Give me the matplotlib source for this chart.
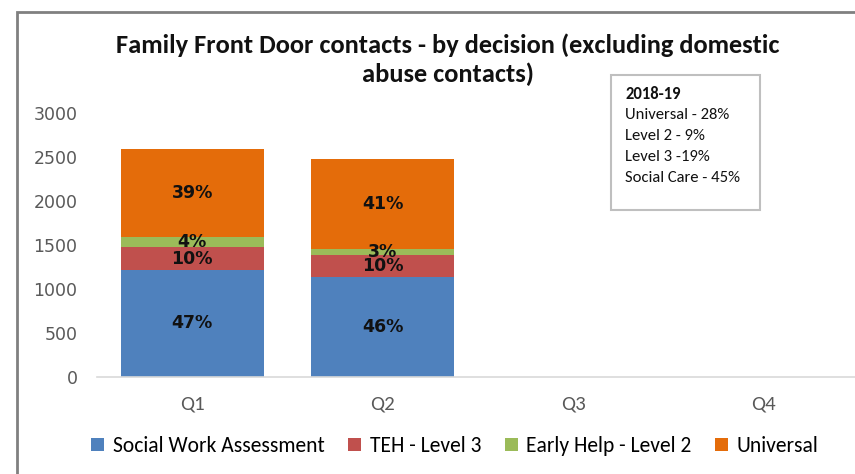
import numpy as np
import matplotlib
matplotlib.use('Agg')
from matplotlib import pyplot as plt
from matplotlib.patches import Rectangle

quarters = ['Q1', 'Q2', 'Q3', 'Q4']
social_work = [1220, 1135, 0, 0]
teh_level3 = [250, 245, 0, 0]
early_help = [115, 70, 0, 0]
universal = [1000, 1020, 0, 0]

series_names = ['Social Work Assessment', 'TEH - Level 3', 'Early Help - Level 2', 'Universal']
colors = ['#4F81BD', '#C0504D', '#9BBB59', '#E46C0A']

note_title = '2018-19'
note_lines = ['Universal - 28%', 'Level 2 - 9%', 'Level 3 -19%', 'Social Care - 45%']

calibri = ['Carlito', 'DejaVu Sans']
W, H = 855, 474

fig = plt.figure(figsize=(W / 100, H / 100), dpi=100)
ax = fig.add_axes([97 / W, 1 - 377 / H, 762 / W, (377 - 112.7) / H])

series = [social_work, teh_level3, early_help, universal]
totals = np.sum(series, axis=0)
x = np.arange(len(quarters))
bottom = np.zeros(len(quarters))
for vals, name, c in zip(series, series_names, colors):
    vals = np.array(vals, dtype=float)
    ax.bar(x, vals, 0.75, bottom=bottom, color=c, label=name, edgecolor='none')
    for i in range(len(x)):
        if vals[i] > 0:
            pct = int(round(vals[i] / totals[i] * 100))
            ax.text(x[i], bottom[i] + vals[i] / 2, '%d%%' % pct, ha='center', va='center',
                    fontsize=12.5, fontweight='bold', color='#111111', family='DejaVu Sans')
    bottom += vals

ax.set_xlim(-0.5, 3.5)
ax.set_ylim(0, 3000)
ax.set_yticks(np.arange(0, 3001, 500))
ax.set_xticks(x)
ax.set_xticklabels(quarters, family=calibri, fontsize=15, color='#595959')
for lbl in ax.get_yticklabels():
    lbl.set_family('DejaVu Sans')
ax.tick_params(axis='y', length=0, pad=14, labelsize=12.5, labelcolor='#595959')
ax.tick_params(axis='x', length=0, pad=13)
for s in ['top', 'right', 'left']:
    ax.spines[s].set_visible(False)
ax.spines['bottom'].set_color('#D9D9D9')
ax.spines['bottom'].set_linewidth(1.2)

# title in two lines
fig.text(448 / W, 1 - 45 / H, 'Family Front Door contacts - by decision (excluding domestic',
         ha='center', va='center', fontsize=19, fontweight='bold', family=calibri, color='#111111')
fig.text(448 / W, 1 - 74 / H, 'abuse contacts)',
         ha='center', va='center', fontsize=19, fontweight='bold', family=calibri, color='#111111')

# yearly breakdown box
fig.patches.append(Rectangle((611 / W, 1 - 210 / H), 149 / W, 135 / H, transform=fig.transFigure,
                             facecolor='white', edgecolor='#BFBFBF', linewidth=1.5))
fig.text(625 / W, 1 - 94 / H, note_title, ha='left', va='center', fontsize=12,
         fontweight='bold', family=calibri, color='#111111')
for k, line in enumerate(note_lines):
    fig.text(625 / W, 1 - (115 + 21 * k) / H, line, ha='left', va='center', fontsize=12,
             family=calibri, color='#111111')

# outer chart frame
fig.patches.append(Rectangle((16.5 / W, -0.05), 1.0, 1 - 12 / H + 0.05, transform=fig.transFigure,
                             facecolor='none', edgecolor='#808080', linewidth=2))

fig.legend(loc='center', bbox_to_anchor=(455 / W, 1 - 446 / H), ncol=4, frameon=False,
           handlelength=0.6, handleheight=0.6, handletextpad=0.4, columnspacing=1.1,
           prop={'family': calibri, 'size': 15.5})

plt.savefig('out.png', dpi=100)
